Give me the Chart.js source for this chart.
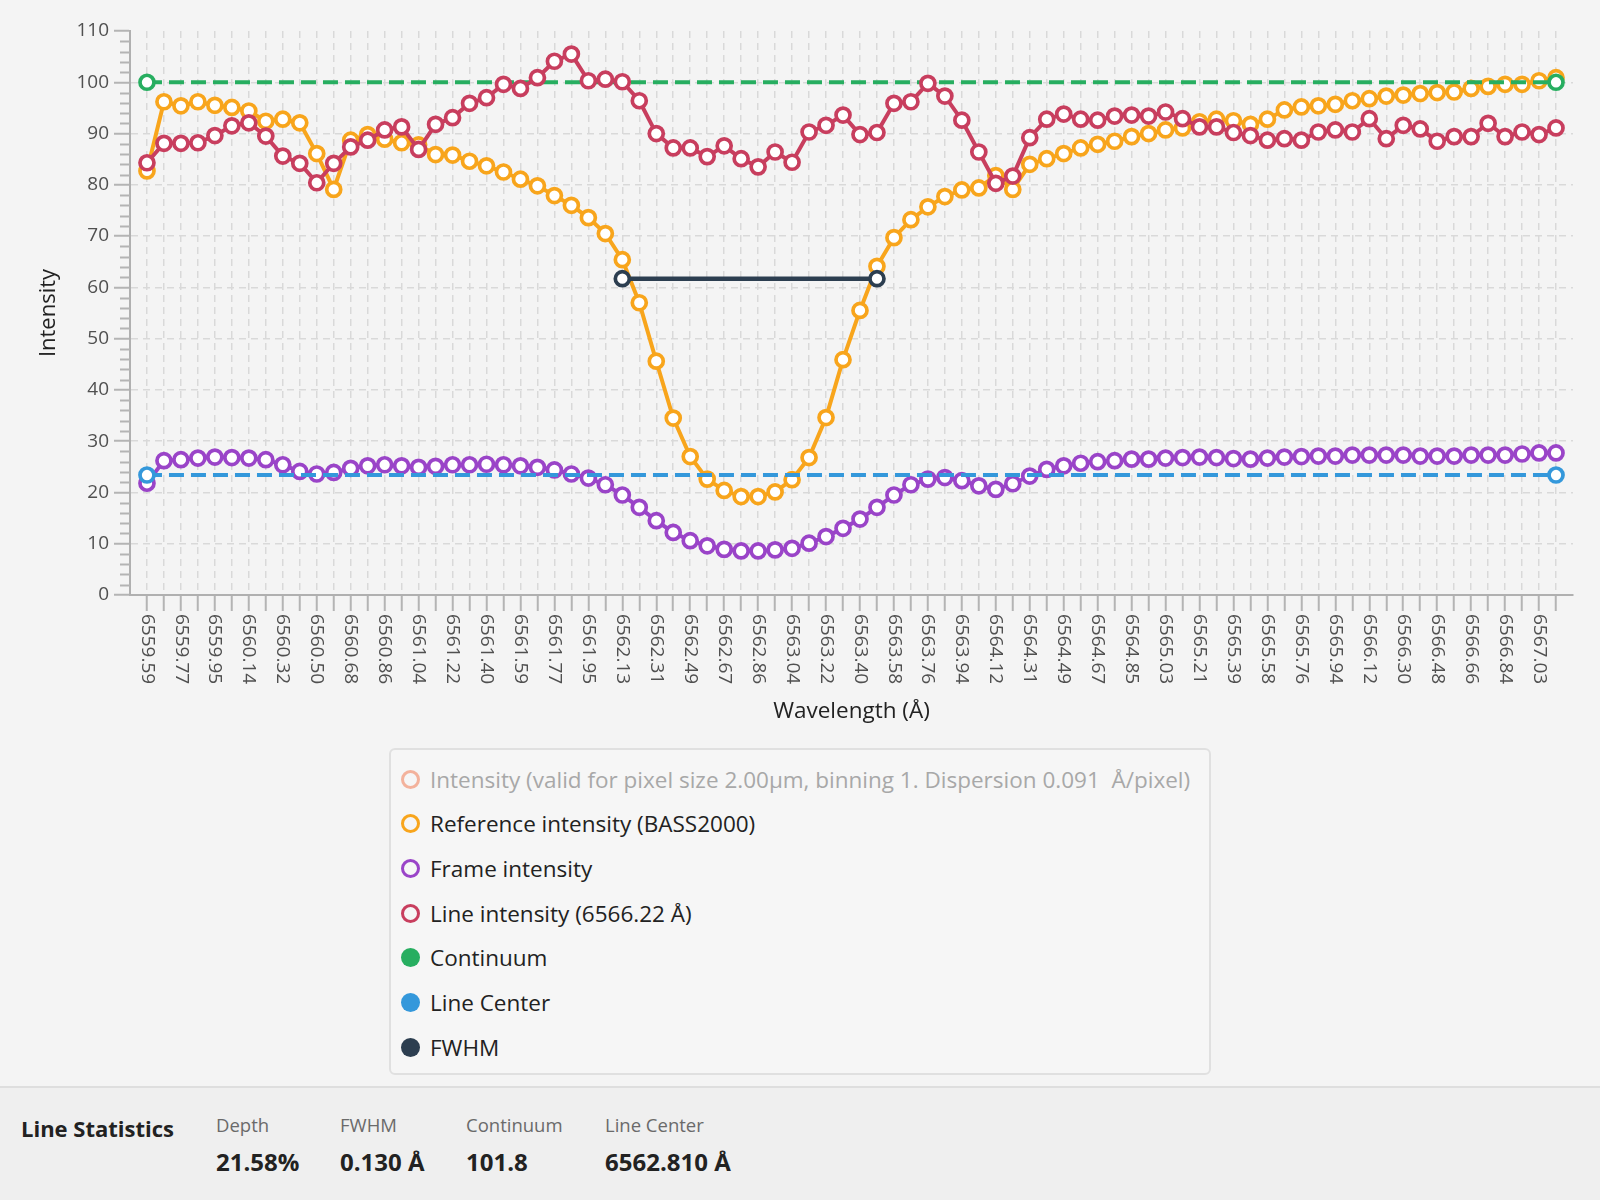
<!DOCTYPE html>
<html>
<head>
<meta charset="utf-8">
<script src="https://cdn.jsdelivr.net/npm/chart.js@4.4.1/dist/chart.umd.min.js"></script>
<style>
  html, body { margin: 0; padding: 0; background: #f4f4f4; width: 1600px; height: 1200px; overflow: hidden; font-family: "Open Sans", "Noto Sans", sans-serif; }
  #wrap { position: absolute; left: 0; top: 0; width: 1600px; height: 735px; }
  #legend { position: absolute; left: 389px; top: 748px; width: 818px; height: 323px; border: 2px solid #e0e0e0; border-radius: 6px; background: #f6f6f6; box-sizing: content-box; }
  .li { position: absolute; left: 10px; height: 30px; display: flex; align-items: center; font-size: 22.5px; color: #222; white-space: pre; }
  .mk { width: 19px; height: 19px; border-radius: 50%; box-sizing: border-box; margin-right: 10px; flex: none; }
  #stats { position: absolute; left: 0; top: 1086px; width: 1600px; height: 114px; background: #efefef; border-top: 2px solid #dedede; }
  .st { position: absolute; white-space: nowrap; }
  .lab { top: 24px; font-size: 18.5px; color: #6a6a6a; }
  .val { top: 57px; font-size: 24px; font-weight: 700; color: #222; }
</style>
</head>
<body>
<div id="wrap"><canvas id="c" width="1600" height="735"></canvas></div>
<div id="legend"></div>
<div id="stats">
  <div class="st" style="left:21px; top:25px; font-size:22px; font-weight:700; color:#222;">Line Statistics</div>
  <div class="st lab" style="left:216px;">Depth</div>
  <div class="st val" style="left:216px;">21.58%</div>
  <div class="st lab" style="left:340px;">FWHM</div>
  <div class="st val" style="left:340px;">0.130 Å</div>
  <div class="st lab" style="left:466px;">Continuum</div>
  <div class="st val" style="left:466px;">101.8</div>
  <div class="st lab" style="left:605px;">Line Center</div>
  <div class="st val" style="left:605px;">6562.810 Å</div>
</div>
<script>
// ---------- DATA ----------
const wavelengths = [
  '6559.59','6559.68','6559.77','6559.86','6559.95','6560.05','6560.14','6560.23','6560.32','6560.41',
  '6560.50','6560.59','6560.68','6560.77','6560.86','6560.95','6561.04','6561.13','6561.22','6561.31',
  '6561.40','6561.50','6561.59','6561.68','6561.77','6561.86','6561.95','6562.04','6562.13','6562.22',
  '6562.31','6562.40','6562.49','6562.58','6562.67','6562.77','6562.86','6562.95','6563.04','6563.13',
  '6563.22','6563.31','6563.40','6563.49','6563.58','6563.67','6563.76','6563.85','6563.94','6564.03',
  '6564.12','6564.22','6564.31','6564.40','6564.49','6564.58','6564.67','6564.76','6564.85','6564.94',
  '6565.03','6565.12','6565.21','6565.30','6565.39','6565.49','6565.58','6565.67','6565.76','6565.85',
  '6565.94','6566.03','6566.12','6566.21','6566.30','6566.39','6566.48','6566.57','6566.66','6566.75',
  '6566.84','6566.94','6567.03','6567.12'
];
const referenceIntensity = [
  82.7, 96.2, 95.4, 96.2, 95.5, 95.1, 94.4, 92.4, 92.8, 92.1,
  86.1, 79.1, 88.7, 89.8, 88.9, 88.2, 87.8, 85.9, 85.8, 84.6,
  83.7, 82.5, 81.1, 79.8, 77.9, 76.0, 73.6, 70.5, 65.4, 57.0,
  45.6, 34.5, 27.0, 22.6, 20.4, 19.2, 19.2, 20.1, 22.5, 26.8,
  34.6, 45.9, 55.5, 64.1, 69.7, 73.2, 75.7, 77.7, 79.0, 79.4,
  81.8, 79.1, 84.0, 85.1, 86.1, 87.2, 87.9, 88.5, 89.4, 90.0,
  90.7, 91.1, 92.3, 92.8, 92.5, 91.8, 92.8, 94.6, 95.2, 95.4,
  95.7, 96.4, 96.8, 97.3, 97.5, 97.8, 98.0, 98.1, 98.8, 99.2,
  99.6, 99.6, 100.3, 100.9
];
const frameIntensity = [
  21.8, 26.2, 26.4, 26.7, 26.9, 26.8, 26.7, 26.4, 25.4, 24.1,
  23.6, 23.9, 24.7, 25.2, 25.4, 25.2, 24.9, 25.1, 25.4, 25.4,
  25.5, 25.4, 25.2, 24.9, 24.4, 23.6, 22.8, 21.5, 19.5, 17.1,
  14.5, 12.2, 10.6, 9.6, 8.9, 8.6, 8.6, 8.8, 9.1, 10.1,
  11.4, 13.0, 14.8, 17.1, 19.5, 21.5, 22.6, 22.9, 22.3, 21.3,
  20.6, 21.7, 23.2, 24.5, 25.2, 25.7, 26.0, 26.2, 26.5, 26.5,
  26.7, 26.8, 26.9, 26.8, 26.6, 26.5, 26.7, 26.9, 27.0, 27.1,
  27.1, 27.3, 27.3, 27.3, 27.3, 27.1, 27.1, 27.1, 27.3, 27.3,
  27.3, 27.5, 27.7, 27.7
];
const lineIntensity = [
  84.3, 88.1, 88.1, 88.2, 89.6, 91.5, 92.1, 89.5, 85.6, 84.2,
  80.4, 84.2, 87.4, 88.7, 90.7, 91.3, 86.9, 91.8, 93.1, 95.9,
  97.0, 99.6, 98.8, 100.9, 104.1, 105.5, 100.3, 100.6, 100.1, 96.4,
  90.0, 87.2, 87.2, 85.5, 87.6, 85.1, 83.5, 86.4, 84.4, 90.3,
  91.6, 93.6, 89.8, 90.2, 95.9, 96.2, 99.8, 97.3, 92.6, 86.4,
  80.3, 81.7, 89.2, 92.8, 93.8, 92.8, 92.6, 93.4, 93.6, 93.4,
  94.2, 92.9, 91.3, 91.3, 90.2, 89.6, 88.7, 89.0, 88.7, 90.3,
  90.7, 90.3, 92.9, 89.0, 91.6, 90.9, 88.5, 89.4, 89.4, 92.0,
  89.4, 90.3, 89.8, 91.1
];
const continuumLevel = 100;
const lineCenterLevel = 23.4;
const fwhmLevel = 61.7;
const fwhmFrom = '6562.13';
const fwhmTo = '6563.49';
const yTicks = [0, 10, 20, 30, 40, 50, 60, 70, 80, 90, 100, 110];
const seriesNames = [
  'Intensity (valid for pixel size 2.00µm, binning 1. Dispersion 0.091  Å/pixel)',
  'Reference intensity (BASS2000)',
  'Frame intensity',
  'Line intensity (6566.22 Å)',
  'Continuum',
  'Line Center',
  'FWHM'
];
// ---------- END DATA ----------

const COLORS = ['#f3b29c', '#f8a51c', '#9a44c8', '#c83e5e', '#27ae60', '#3498db', '#2c3e50'];
const lastIdx = wavelengths.length - 1;
const toXY = arr => arr.map((v, i) => ({x: i, y: v}));
const levelLine = (lvl) => [{x: 0, y: lvl}, {x: lastIdx, y: lvl}];
const fwhmData = [{x: wavelengths.indexOf(fwhmFrom), y: fwhmLevel}, {x: wavelengths.indexOf(fwhmTo), y: fwhmLevel}];

function ds(label, data, color, order, extra) {
  return Object.assign({
    label, data, order,
    borderColor: color, backgroundColor: color,
    borderWidth: 4,
    pointRadius: 7, pointHoverRadius: 7,
    pointBorderWidth: 3.7, pointBackgroundColor: '#ffffff', pointBorderColor: color,
    tension: 0, fill: false
  }, extra || {});
}

const datasets = [
  ds(seriesNames[0], [], COLORS[0], 8, {hidden: true}),
  ds(seriesNames[1], toXY(referenceIntensity), COLORS[1], 7),
  ds(seriesNames[2], toXY(frameIntensity), COLORS[2], 6),
  ds(seriesNames[3], toXY(lineIntensity), COLORS[3], 4),
  ds(seriesNames[4], levelLine(continuumLevel), COLORS[4], 5, {borderDash: [15, 7]}),
  ds(seriesNames[5], levelLine(lineCenterLevel), COLORS[5], 3, {borderDash: [15, 7]}),
  ds(seriesNames[6], fwhmData, COLORS[6], 2, {borderWidth: 4.5})
];

const GRID = '#d9d9d9';
const TICK = '#b4b4b4';

const extraPlugin = {
  id: 'extra',
  afterDraw(chart) {
    const ctx = chart.ctx;
    const xs = chart.scales.x, ys = chart.scales.y;
    ctx.save();
    // rotated (clockwise) category labels
    ctx.font = '19px "Open Sans"';
    ctx.fillStyle = '#505050';
    ctx.textAlign = 'left';
    ctx.textBaseline = 'middle';
    for (let i = 0; i < wavelengths.length; i += 2) {
      const px = xs.getPixelForValue(i);
      ctx.save();
      ctx.translate(px, xs.top + 19);
      ctx.rotate(Math.PI / 2);
      ctx.fillText(wavelengths[i], 0, 0);
      ctx.restore();
    }
    // minor ticks on y axis
    ctx.strokeStyle = TICK;
    ctx.lineWidth = 2;
    for (let k = 0; k < yTicks.length - 1; k++) {
      const a = yTicks[k], b = yTicks[k + 1];
      for (let m = 1; m < 5; m++) {
        const v = a + (b - a) * m / 5;
        const py = Math.round(ys.getPixelForValue(v)) + 0.5;
        ctx.beginPath();
        ctx.moveTo(ys.right - 10, py);
        ctx.lineTo(ys.right, py);
        ctx.stroke();
      }
    }
    ctx.restore();
  }
};

new Chart(document.getElementById('c'), {
  type: 'line',
  data: { datasets },
  plugins: [extraPlugin],
  options: {
    responsive: false,
    devicePixelRatio: 1,
    animation: false,
    events: [],
    layout: { padding: { left: 0, right: 27, top: 31, bottom: 0 } },
    plugins: { legend: { display: false }, tooltip: { enabled: false } },
    scales: {
      x: {
        type: 'linear',
        min: -1, max: lastIdx + 1,
        afterFit(s) { s.height = 140; },
        ticks: { stepSize: 1, autoSkip: false, maxTicksLimit: 1000, maxRotation: 0, callback: () => '' },
        grid: {
          color: c => (c.tick && c.tick.value >= 0 && c.tick.value <= lastIdx) ? GRID : 'rgba(0,0,0,0)',
          tickColor: c => (c.tick && c.tick.value >= 0 && c.tick.value <= lastIdx) ? TICK : 'rgba(0,0,0,0)',
          lineWidth: 1.5, tickWidth: 2, tickLength: 16
        },
        border: { display: true, color: '#b0b0b0', width: 2, dash: [7, 5] },
        title: { display: true, text: 'Wavelength (Å)', color: '#222', font: { family: 'Open Sans', size: 22.5 }, padding: { top: 0, bottom: 10 } }
      },
      y: {
        min: yTicks[0], max: yTicks[yTicks.length - 1],
        afterFit(s) { s.width = 130; },
        afterBuildTicks(s) { s.ticks = yTicks.map(v => ({value: v})); },
        ticks: { stepSize: 10, autoSkip: false, padding: 5, color: '#505050', font: { family: 'Open Sans', size: 19 } },
        grid: {
          color: c => (c.tick && c.tick.value > yTicks[0] && c.tick.value < yTicks[yTicks.length - 1]) ? GRID : 'rgba(0,0,0,0)',
          tickColor: TICK, lineWidth: 1.5, tickWidth: 2, tickLength: 16
        },
        border: { display: true, color: '#b0b0b0', width: 2, dash: [7, 5] },
        title: { display: true, text: 'Intensity', color: '#222', font: { family: 'Open Sans', size: 22 }, padding: { top: 36, bottom: 0 } }
      }
    }
  }
});

// HTML legend built from the datasets
const legend = document.getElementById('legend');
datasets.forEach((d, i) => {
  const row = document.createElement('div');
  row.className = 'li';
  row.style.top = (14 + i * 44.7) + 'px';
  const mk = document.createElement('span');
  mk.className = 'mk';
  const filled = i >= 4;
  if (filled) { mk.style.background = COLORS[i]; }
  else { mk.style.border = '3.7px solid ' + COLORS[i]; mk.style.background = 'transparent'; }
  const tx = document.createElement('span');
  tx.textContent = d.label;
  if (d.hidden) { tx.style.color = '#a8a8a8'; }
  row.appendChild(mk); row.appendChild(tx);
  legend.appendChild(row);
});
</script>
</body>
</html>
